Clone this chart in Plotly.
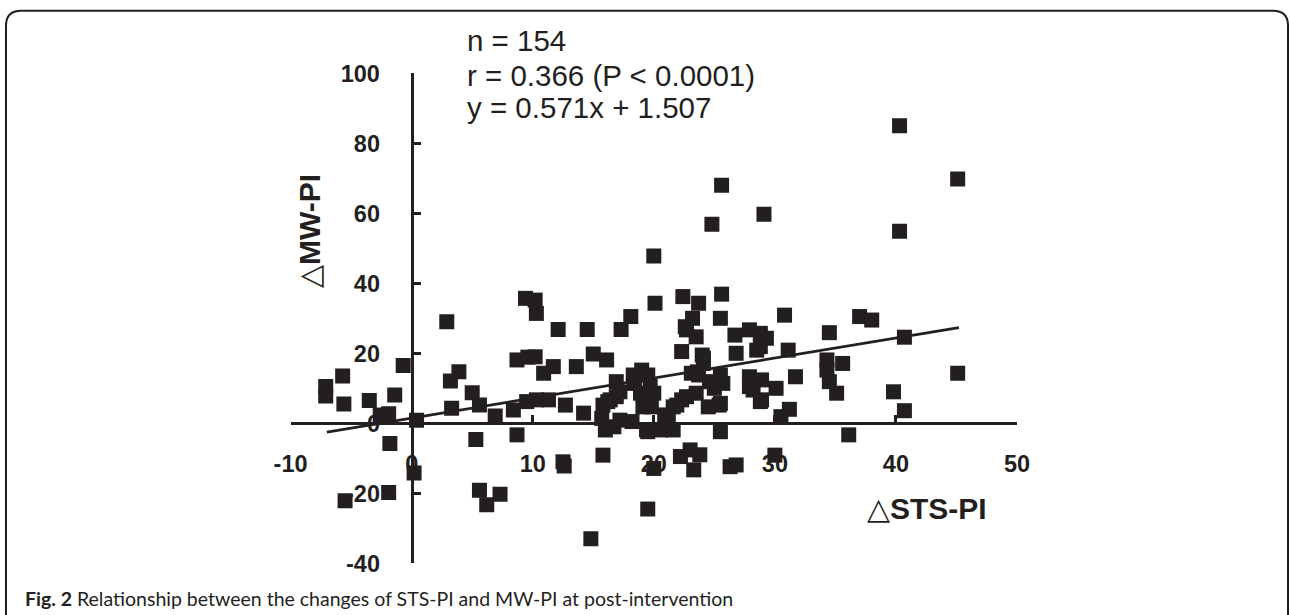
import plotly.graph_objects as go

# ---------------- data ----------------
sts_pi = [
    -7.1, -7.1, -5.7, -5.6, -3.5, -1.4, -0.7, -2.6, -1.9, -1.8,
    0.4, 0.2, -1.9, -5.5, 2.9, 3.2, 3.9, 3.3, 5.0, 5.6,
    6.9, 5.3, 5.6, 6.2, 7.3, 8.4, 8.7, 8.7,
    9.4, 10.2, 10.3, 9.6, 10.2, 10.9, 11.7, 13.6, 15.0, 16.1,
    12.1, 14.5, 17.3, 18.1, 9.5, 10.3, 11.3, 12.7, 14.2, 12.5,
    12.6, 15.8, 14.8, 19.5, 20.0, 19.4, 16.0, 15.7, 15.8, 16.9,
    16.9, 17.2, 18.2, 18.3, 19.0, 19.5, 19.7, 18.9, 20.0, 19.1,
    19.8, 19.5, 18.4, 16.2, 20.0, 20.1, 17.2,
    21.2, 21.6, 22.4, 23.7, 25.6, 25.5, 23.2, 22.7, 23.5, 22.3,
    26.7, 27.9, 28.8, 26.8, 28.5, 24.1, 23.0, 23.8, 22.2, 23.3,
    26.3, 26.8, 25.5, 21.9, 22.7, 23.5, 24.5, 25.5, 25.7, 25.5,
    24.6, 23.7, 24.1, 23.1, 27.9, 28.2, 28.8, 27.9, 28.8, 25.6,
    29.1, 24.8, 20.9, 21.6, 25.0,
    30.8, 29.3, 31.1, 34.5, 37.0, 38.0, 40.7, 45.1, 35.6, 34.3,
    34.3, 34.5, 35.1, 31.7, 30.1, 31.2, 30.5, 39.8, 40.7, 36.1,
    30.0, 28.9, 28.9, 40.3, 45.1, 40.3,
    16.4, 22.3, 23.6, 24.0, 22.6, 25.4, 16.7, 20.6,
]
mw_pi = [
    10.5, 7.8, 13.5, 5.5, 6.5, 8.1, 16.5, 2.4, 2.7, -5.8,
    0.9, -14.2, -19.8, -22.1, 29.0, 12.1, 14.7, 4.3, 8.7, 5.2,
    2.1, -4.6, -19.1, -23.3, -20.3, 3.8, -3.3, 18.1,
    35.7, 35.2, 31.4, 18.9, 19.0, 14.3, 16.2, 16.2, 19.8, 18.1,
    26.8, 26.8, 26.8, 30.5, 6.2, 6.7, 6.7, 5.2, 2.9, -11.0,
    -12.2, -9.1, -33.0, -24.5, -12.9, -1.9, -1.9, 1.4, 5.2, 7.6,
    11.9, 0.9, 0.5, 13.8, 15.2, 13.8, 10.5, 8.6, 8.6, 4.7,
    4.7, -2.4, 11.4, 6.2, 47.8, 34.3, 9.0,
    0.9, -1.9, 36.2, 34.3, 36.9, 30.0, 30.0, 26.7, 24.7, 20.5,
    25.2, 26.7, 25.7, 20.0, 20.9, 18.6, -7.6, -9.0, -9.5, -13.3,
    -12.4, -11.9, -2.4, 5.2, 7.6, 8.6, 4.7, 5.7, 11.4, 13.8,
    11.9, 13.8, 17.1, 14.3, 13.3, 9.5, 6.2, 10.5, 21.9, 68.0,
    59.7, 56.9, 2.4, 4.7, 10.0,
    30.9, 24.3, 20.9, 25.9, 30.5, 29.5, 24.6, 14.3, 17.1, 18.1,
    15.2, 11.9, 8.6, 13.3, 10.0, 4.0, 1.9, 9.0, 3.6, -3.3,
    -9.1, 12.4, 6.7, 85.0, 69.8, 54.9,
    6.7, 6.7, 14.7, 19.5, 27.6, 5.2, -1.0, -1.9,
]

slope = 0.571
intercept = 1.507
fit_x = [-7.0, 45.2]
fit_y = [slope * v + intercept for v in fit_x]

x_ticks = [-10, 0, 10, 20, 30, 40, 50]
x_tick_labels = ["-10", "0", "10", "20", "30", "40", "50"]
y_ticks = [-40, -20, 0, 20, 40, 60, 80, 100]
y_tick_labels = ["-40", "-20", "0", "20", "40", "60", "80", "100"]
x_range = [-10, 50]
y_range = [-40, 100]

stats_lines = ["n = 154", "r = 0.366 (P < 0.0001)", "y = 0.571x + 1.507"]
x_title = "△<b>STS-PI</b>"
y_title = "△<b>MW-PI</b>"
caption = "<b>Fig. 2</b> Relationship between the changes of STS-PI and MW-PI at post-intervention"

# ---------------- layout helpers ----------------
W, H = 1290, 615
INK = "#231f20"
FONT = "Liberation Sans, Arial, sans-serif"


def fx(px):
    return px / W


def fy(py):
    return 1 - py / H


x_dom = [fx(290.6), fx(1017.0)]
y_dom = [fy(563.3), fy(73.3)]
x_cross = x_dom[0] + (0 - x_range[0]) / (x_range[1] - x_range[0]) * (x_dom[1] - x_dom[0])
y_cross = y_dom[0] + (0 - y_range[0]) / (y_range[1] - y_range[0]) * (y_dom[1] - y_dom[0])

fig = go.Figure()
fig.add_trace(go.Scatter(
    x=sts_pi, y=mw_pi, mode="markers",
    marker=dict(symbol="square", size=15, color=INK, line=dict(width=0)),
    showlegend=False, hoverinfo="skip",
))
fig.add_trace(go.Scatter(
    x=fit_x, y=fit_y, mode="lines",
    line=dict(color=INK, width=2.8),
    showlegend=False, hoverinfo="skip",
))

tick_font = dict(family=FONT, size=23.5, color=INK, weight="bold")

fig.update_layout(
    width=W, height=H,
    margin=dict(l=0, r=0, t=0, b=0, pad=0, autoexpand=False),
    paper_bgcolor="white", plot_bgcolor="white",
    xaxis=dict(
        domain=x_dom, range=x_range, tickvals=x_ticks, ticktext=x_tick_labels,
        showgrid=False, zeroline=False, showline=True,
        linecolor=INK, linewidth=3, ticks="inside", ticklen=7, tickwidth=3,
        tickcolor=INK, tickfont=tick_font, anchor="free", position=y_cross,
        ticklabelstandoff=18, layer="below traces", fixedrange=True,
        automargin=False,
    ),
    yaxis=dict(
        domain=y_dom, range=y_range, tickvals=y_ticks, ticktext=y_tick_labels,
        showgrid=False, zeroline=False, showline=True,
        linecolor=INK, linewidth=3, ticks="inside", ticklen=7, tickwidth=3,
        tickcolor=INK, tickfont=tick_font, anchor="free", position=x_cross,
        ticklabelstandoff=26, layer="below traces", fixedrange=True,
        automargin=False,
    ),
)

for txt, py in zip(stats_lines, [40, 76, 108]):
    fig.add_annotation(
        text=txt, xref="paper", yref="paper", x=fx(465), y=fy(py),
        xanchor="left", yanchor="middle", showarrow=False,
        font=dict(family=FONT, size=29.5, color=INK),
    )

fig.add_annotation(
    text=x_title, xref="paper", yref="paper", x=fx(927), y=fy(508),
    xanchor="center", yanchor="middle", showarrow=False,
    font=dict(family=FONT, size=30, color=INK),
)
fig.add_annotation(
    text=y_title, xref="paper", yref="paper", x=fx(309), y=fy(231),
    xanchor="center", yanchor="middle", showarrow=False, textangle=-90,
    font=dict(family=FONT, size=30, color=INK),
)

fig.add_annotation(
    text=caption, xref="paper", yref="paper", x=fx(23), y=fy(598),
    xanchor="left", yanchor="middle", showarrow=False,
    font=dict(family="Lato, sans-serif", size=19.5, color=INK),
)

L, R, T, B, rad = 6, 1288, 10.7, 640, 15
path = (
    f"M {fx(L)} {fy(B)} L {fx(L)} {fy(T + rad)} "
    f"Q {fx(L)} {fy(T)} {fx(L + rad)} {fy(T)} "
    f"L {fx(R - rad)} {fy(T)} Q {fx(R)} {fy(T)} {fx(R)} {fy(T + rad)} "
    f"L {fx(R)} {fy(B)}"
)
fig.add_shape(type="path", path=path, xref="paper", yref="paper",
              line=dict(color=INK, width=2))

fig.write_html(
    "out.html",
    config={"displayModeBar": False, "staticPlot": True},
    post_script="document.body.style.margin='0';document.body.style.overflow='hidden';",
)
